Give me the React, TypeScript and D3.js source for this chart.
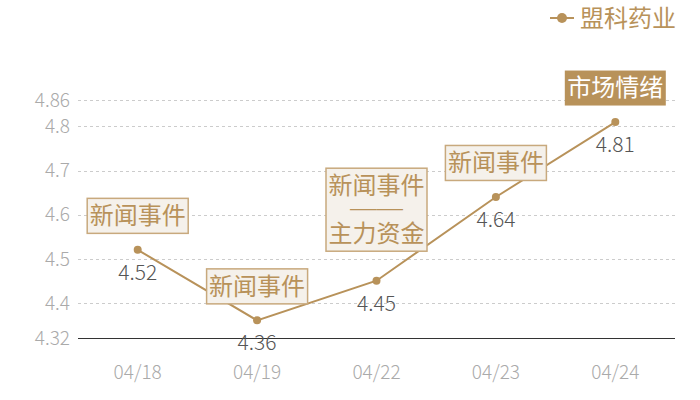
import { useEffect, useRef } from "react";
import * as d3 from "d3";

const dates = ["04/18", "04/19", "04/22", "04/23", "04/24"];
const prices = [4.52, 4.36, 4.45, 4.64, 4.81];
const yTicks = [4.32, 4.4, 4.5, 4.6, 4.7, 4.8, 4.86];
const seriesName = "盟科药业";

// one entry per date, lines of the note box
const notes = [
  { date: "04/18", lines: ["新闻事件"], solid: false },
  { date: "04/19", lines: ["新闻事件"], solid: false },
  { date: "04/22", lines: ["新闻事件", "——", "主力资金"], solid: false },
  { date: "04/23", lines: ["新闻事件"], solid: false },
  { date: "04/24", lines: ["市场情绪"], solid: true },
];

const GOLD = "#b8925a";
const FONT = "'Noto Sans CJK SC', 'Noto Sans', sans-serif";

const App = () => {
  const svgRef = useRef<SVGSVGElement>(null);

  useEffect(() => {
    if (!svgRef.current) return;
    const svg = d3.select(svgRef.current);
    svg.selectAll("*").remove();

    const width = 700;
    const height = 400;
    const margin = { left: 78, right: 25, top: 100, bottom: 62 };

    const x = d3
      .scaleBand<string>()
      .domain(dates)
      .range([margin.left, width - margin.right]);
    const y = d3
      .scaleLinear()
      .domain([4.32, 4.86])
      .range([height - margin.bottom, margin.top]);
    const cx = (d: string) => (x(d) ?? 0) + x.bandwidth() / 2;

    svg.attr("width", width).attr("height", height).style("font-family", FONT);

    // grid
    svg
      .append("g")
      .selectAll("line")
      .data(yTicks.filter((t) => t !== 4.32))
      .enter()
      .append("line")
      .attr("x1", margin.left)
      .attr("x2", width - margin.right)
      .attr("y1", (d) => Math.round(y(d)) + 0.5)
      .attr("y2", (d) => Math.round(y(d)) + 0.5)
      .attr("stroke", "#ccc")
      .attr("stroke-dasharray", "3,3");

    // y axis labels
    svg
      .append("g")
      .selectAll("text")
      .data(yTicks)
      .enter()
      .append("text")
      .attr("x", margin.left - 8)
      .attr("y", (d) => y(d))
      .attr("dy", "0.36em")
      .attr("text-anchor", "end")
      .attr("font-size", 19)
      .attr("font-weight", 300)
      .attr("fill", "#aaa")
      .text((d) => d3.format("~g")(d));

    // x axis line
    svg
      .append("line")
      .attr("x1", margin.left)
      .attr("x2", width - margin.right)
      .attr("y1", Math.round(y(4.32)) + 0.5)
      .attr("y2", Math.round(y(4.32)) + 0.5)
      .attr("stroke", "#333");

    svg
      .append("g")
      .selectAll("text")
      .data(dates)
      .enter()
      .append("text")
      .attr("x", cx)
      .attr("y", y(4.32) + 41)
      .attr("text-anchor", "middle")
      .attr("font-size", 19)
      .attr("font-weight", 300)
      .attr("fill", "#aaa")
      .text((d) => d);

    // line
    const line = d3
      .line<number>()
      .x((_, i) => cx(dates[i]))
      .y((d) => y(d));
    svg
      .append("path")
      .datum(prices)
      .attr("d", line)
      .attr("fill", "none")
      .attr("stroke", GOLD)
      .attr("stroke-width", 2);

    svg
      .append("g")
      .selectAll("circle")
      .data(prices)
      .enter()
      .append("circle")
      .attr("cx", (_, i) => cx(dates[i]))
      .attr("cy", (d) => y(d))
      .attr("r", 4)
      .attr("fill", GOLD);

    svg
      .append("g")
      .selectAll("text")
      .data(prices)
      .enter()
      .append("text")
      .attr("x", (_, i) => cx(dates[i]))
      .attr("y", (d) => y(d) + 30)
      .attr("text-anchor", "middle")
      .attr("font-size", 21)
      .attr("font-weight", 300)
      .attr("fill", "#555")
      .text((d) => d.toFixed(2));

    // note boxes
    const lineH = 24;
    notes.forEach((n) => {
      const i = dates.indexOf(n.date);
      const px = cx(n.date);
      const py = y(prices[i]);
      const boxW = 101;
      const boxH = 35 + (n.lines.length - 1) * lineH;
      const gap = n.lines.length > 1 ? 30 : 17;
      const top = py - gap - boxH;
      const g = svg.append("g");
      g.append("rect")
        .attr("x", px - boxW / 2)
        .attr("y", top + 0.5)
        .attr("width", boxW)
        .attr("height", boxH)
        .attr("fill", n.solid ? GOLD : "#f5f1eb")
        .attr("stroke", n.solid ? "none" : "#c8a97d")
        .attr("stroke-width", 1.5);
      n.lines.forEach((t, k) => {
        const isDash = /^—+$/.test(t);
        const tx = g
          .append("text")
          .attr("x", px)
          .attr("y", top + boxH / 2 + (k - (n.lines.length - 1) / 2) * lineH)
          .attr("dy", "0.36em")
          .attr("text-anchor", "middle")
          .attr("font-size", 24)
          .attr("fill", n.solid ? "#fff" : GOLD)
          .text(t);
        if (isDash) {
          tx.attr("font-family", "'Liberation Sans', sans-serif")
            .attr("font-size", 20)
            .attr("dy", "0.3em")
            .attr("textLength", 53)
            .attr("lengthAdjust", "spacingAndGlyphs");
        }
      });
    });

    // legend
    const lg = svg.append("g").attr("transform", "translate(550,18)");
    lg.append("line")
      .attr("x1", 0)
      .attr("x2", 24)
      .attr("stroke", GOLD)
      .attr("stroke-width", 2);
    lg.append("circle").attr("cx", 12).attr("r", 5).attr("fill", GOLD);
    lg.append("text")
      .attr("x", 30)
      .attr("dy", "0.36em")
      .attr("font-size", 24)
      .attr("fill", GOLD)
      .text(seriesName);
  }, []);

  return (
    <div style={{ position: "absolute", left: 0, top: 0, width: 700, height: 400, background: "#fff" }}>
      <svg ref={svgRef} />
    </div>
  );
};

export default App;
